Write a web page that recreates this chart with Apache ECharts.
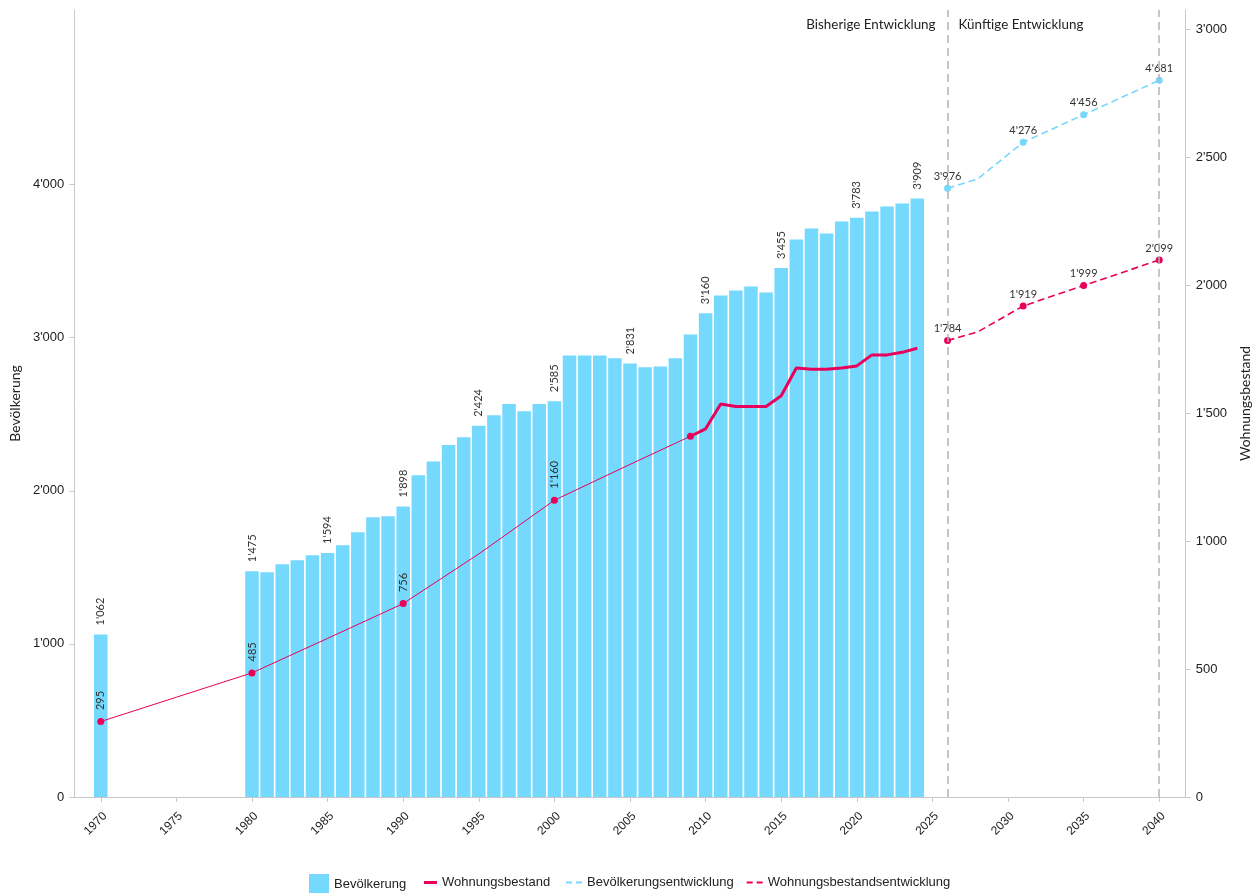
<!DOCTYPE html>
<html>
<head>
<meta charset="utf-8">
<title>Bevölkerung und Wohnungsbestand</title>
<script src="https://cdn.jsdelivr.net/npm/echarts@6/dist/echarts.min.js"></script>
<style>
  html, body { margin: 0; padding: 0; background: #fff; }
  #chart { width: 1260px; height: 893px; }
</style>
</head>
<body>
<div id="chart"></div>
<script>
// Population per year (bars, left axis)
const popYears = [1970, 1980, 1981, 1982, 1983, 1984, 1985, 1986, 1987, 1988, 1989,
  1990, 1991, 1992, 1993, 1994, 1995, 1996, 1997, 1998, 1999,
  2000, 2001, 2002, 2003, 2004, 2005, 2006, 2007, 2008, 2009,
  2010, 2011, 2012, 2013, 2014, 2015, 2016, 2017, 2018, 2019,
  2020, 2021, 2022, 2023, 2024];
const popValues = [1062, 1475, 1468, 1520, 1546, 1579, 1594, 1644, 1729, 1827, 1834,
  1898, 2101, 2192, 2299, 2349, 2424, 2493, 2566, 2519, 2566,
  2585, 2884, 2884, 2884, 2865, 2831, 2806, 2812, 2865, 3021,
  3160, 3276, 3308, 3334, 3295, 3455, 3641, 3713, 3680, 3759,
  3783, 3824, 3856, 3876, 3909];
const popLabelYears = [1970, 1980, 1985, 1990, 1995, 2000, 2005, 2010, 2015, 2020, 2024];

// Housing stock until 2009 (thin line, right axis)
const housingEarlyYears = [1970, 1975, 1980, 1985, 1990, 1995, 2000, 2005, 2009];
const housingEarlyValues = [295, 390, 485, 620, 756, 950, 1160, 1300, 1410];
const housingEarlyDotYears = [1970, 1980, 1990, 2000, 2009];
const housingEarlyLabelYears = [1970, 1980, 1990, 2000];

// Housing stock from 2009 (thick line, right axis)
const housingYears = [2009, 2010, 2011, 2012, 2013, 2014, 2015, 2016, 2017, 2018, 2019,
  2020, 2021, 2022, 2023, 2024];
const housingValues = [1410, 1439, 1536, 1526, 1526, 1526, 1568, 1677, 1672, 1672, 1677,
  1685, 1728, 1728, 1738, 1754];
const housingLabelYears = [2010, 2015, 2020, 2024];

// Forecasts
const popForecastYears = [2026, 2028, 2031, 2035, 2040];
const popForecastValues = [3976, 4037, 4276, 4456, 4681];
const housingForecastYears = [2026, 2028, 2031, 2035, 2040];
const housingForecastValues = [1784, 1818, 1919, 1999, 2099];
const forecastMarkedYears = [2026, 2031, 2035, 2040];

// Axis ticks
const xTickYears = [1970, 1975, 1980, 1985, 1990, 1995, 2000, 2005, 2010, 2015, 2020, 2025, 2030, 2035, 2040];
const leftTicks = [0, 1000, 2000, 3000, 4000];
const rightTicks = [0, 500, 1000, 1500, 2000, 2500, 3000];
const periodBreaks = [2026, 2040];

const BLUE = '#75d8fd';
const PINK = '#e8005a';
const AXIS_GREY = '#c8c8c8';
const SANS = '"Liberation Sans", Arial, sans-serif';
const ROUND = 'Lato, "Noto Sans", sans-serif';

const fmt = v => String(Math.round(v)).replace(/\B(?=(\d{3})+(?!\d))/g, "'");

const rotatedLabel = {
  position: 'top', rotate: 90, align: 'left', verticalAlign: 'middle',
  distance: 8, fontFamily: ROUND, fontSize: 11, color: '#333',
  formatter: p => fmt(p.value[1])
};

const popData = popYears.map((y, i) => ({
  value: [y, popValues[i]],
  label: { show: popLabelYears.includes(y) }
}));
const housingEarlyData = housingEarlyYears.map((y, i) => ({
  value: [y, housingEarlyValues[i]],
  symbolSize: housingEarlyDotYears.includes(y) ? 7 : 0,
  label: { show: housingEarlyLabelYears.includes(y) }
}));
const housingData = housingYears.map((y, i) => ({
  value: [y, housingValues[i]],
  label: { show: housingLabelYears.includes(y) }
}));
const forecastData = (years, values) => years.map((y, i) => ({
  value: [y, values[i]],
  symbolSize: forecastMarkedYears.includes(y) ? 7 : 0,
  label: { show: forecastMarkedYears.includes(y) }
}));

const forecastLabel = {
  position: 'top', distance: 3, fontFamily: ROUND, fontSize: 11, color: '#333',
  formatter: p => fmt(p.value[1])
};

const legendText = { fontFamily: SANS, fontSize: 13, color: '#222' };

const chart = echarts.init(document.getElementById('chart'), null, { renderer: 'canvas' });

const option = {
  animation: false,
  backgroundColor: '#fff',
  grid: { left: 72, right: 73, top: 10, bottom: 96, containLabel: false },
  legend: [
    {
      data: ['Bevölkerung'], left: 309, top: 874, padding: 0,
      itemWidth: 20, itemHeight: 20, icon: 'rect', textStyle: legendText
    },
    {
      data: ['Wohnungsbestand'], left: 424, top: 876, padding: 0,
      itemWidth: 13, itemHeight: 3, icon: 'rect', textStyle: legendText
    },
    {
      data: ['Bevölkerungsentwicklung', 'Wohnungsbestandsentwicklung'], left: 566, top: 876, padding: 0,
      itemWidth: 16, itemHeight: 2, itemGap: 13,
      icon: 'path://M0,0H6V2H0Z M10,0H16V2H10Z', textStyle: legendText
    }
  ],
  xAxis: {
    type: 'value', min: 1968.25, max: 2041.75,
    axisLine: { show: true, lineStyle: { color: AXIS_GREY, width: 1 } },
    axisTick: { show: true, length: 5, lineStyle: { color: AXIS_GREY }, customValues: xTickYears },
    axisLabel: {
      rotate: 45, fontFamily: SANS, fontSize: 12, color: '#222', margin: 13,
      verticalAlign: 'top',
      customValues: xTickYears, formatter: v => String(v)
    },
    splitLine: { show: false }
  },
  yAxis: [
    {
      type: 'value', min: 0, max: 5140, position: 'left',
      name: 'Bevölkerung', nameLocation: 'middle', nameGap: 52, nameRotate: 90,
      nameTextStyle: { fontFamily: ROUND, fontSize: 14, color: '#222' },
      axisLine: { show: true, lineStyle: { color: AXIS_GREY } },
      axisTick: { show: true, length: 5, lineStyle: { color: AXIS_GREY }, customValues: leftTicks },
      axisLabel: { fontFamily: SANS, fontSize: 13, color: '#222', margin: 10, customValues: leftTicks, formatter: fmt },
      splitLine: { show: false }
    },
    {
      type: 'value', min: 0, max: 3076, position: 'right',
      name: 'Wohnungsbestand', nameLocation: 'middle', nameGap: 49, nameRotate: 90,
      nameTextStyle: { fontFamily: ROUND, fontSize: 14, color: '#222' },
      axisLine: { show: true, lineStyle: { color: AXIS_GREY } },
      axisTick: { show: true, length: 5, lineStyle: { color: AXIS_GREY }, customValues: rightTicks },
      axisLabel: { fontFamily: SANS, fontSize: 13, color: '#222', margin: 10, customValues: rightTicks, formatter: fmt },
      splitLine: { show: false }
    }
  ],
  series: [
    {
      name: 'Bevölkerung', type: 'bar', yAxisIndex: 0, barWidth: 13.5,
      itemStyle: { color: BLUE },
      label: Object.assign({}, rotatedLabel, { distance: 9 }),
      data: popData, z: 1,
      // dashed separators between past and forecast period, drawn beneath the lines
      markLine: {
        silent: true, symbol: 'none', animation: false,
        lineStyle: { color: '#b4b4b4', width: 1.5, type: [8, 5] },
        label: { show: false },
        data: periodBreaks.map(y => ({ xAxis: y }))
      }
    },
    {
      name: 'Wohnungsbestand', type: 'line', yAxisIndex: 1,
      symbol: 'circle', showAllSymbol: true,
      lineStyle: { color: PINK, width: 1 }, itemStyle: { color: PINK },
      label: rotatedLabel,
      data: housingEarlyData, z: 3
    },
    {
      name: 'Wohnungsbestand', type: 'line', yAxisIndex: 1,
      symbol: 'none',
      lineStyle: { color: PINK, width: 3 }, itemStyle: { color: PINK },
      label: rotatedLabel,
      data: housingData, z: 3
    },
    {
      name: 'Bevölkerungsentwicklung', type: 'line', yAxisIndex: 0,
      symbol: 'circle', showAllSymbol: true,
      lineStyle: { color: BLUE, width: 1.6, type: [7, 4] }, itemStyle: { color: BLUE },
      label: forecastLabel,
      data: forecastData(popForecastYears, popForecastValues), z: 3
    },
    {
      name: 'Wohnungsbestandsentwicklung', type: 'line', yAxisIndex: 1,
      symbol: 'circle', showAllSymbol: true,
      lineStyle: { color: PINK, width: 1.6, type: [7, 4] }, itemStyle: { color: PINK },
      label: forecastLabel,
      data: forecastData(housingForecastYears, housingForecastValues), z: 3
    }
  ]
};

chart.setOption(option);

// Period captions on either side of the first break line
const breakX = chart.convertToPixel({ xAxisIndex: 0 }, periodBreaks[0]);
chart.setOption({
  graphic: [
    {
      type: 'text', x: breakX - 12, y: 25,
      style: { text: 'Bisherige Entwicklung', align: 'right', verticalAlign: 'middle',
        fontFamily: ROUND, fontSize: 13.4, fill: '#222' }
    },
    {
      type: 'text', x: breakX + 11, y: 25,
      style: { text: 'Künftige Entwicklung', align: 'left', verticalAlign: 'middle',
        fontFamily: ROUND, fontSize: 13.4, fill: '#222' }
    }
  ]
});
</script>
</body>
</html>
